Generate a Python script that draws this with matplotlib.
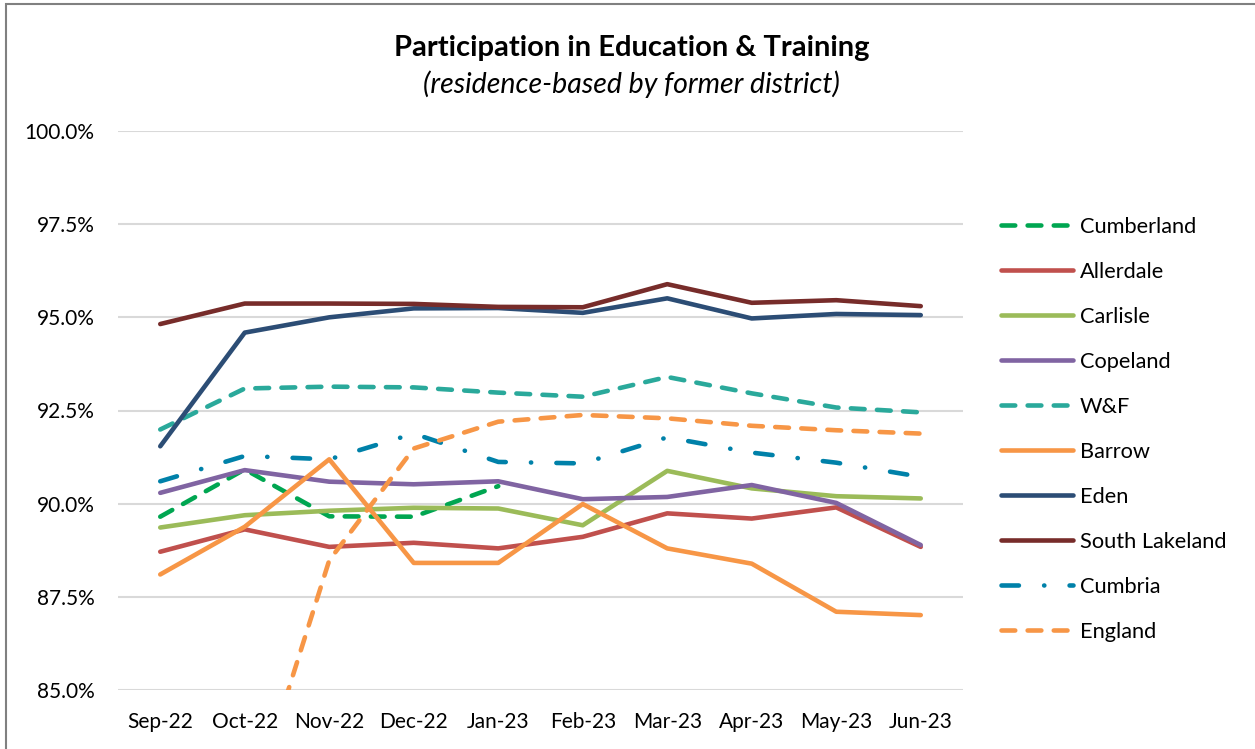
import numpy as np
import matplotlib
matplotlib.use("Agg")
import matplotlib.pyplot as plt
from matplotlib.patches import Rectangle
from matplotlib.ticker import FuncFormatter

plt.rcParams["font.family"] = ["Lato", "DejaVu Sans"]

months = ["Sep-22", "Oct-22", "Nov-22", "Dec-22", "Jan-23",
          "Feb-23", "Mar-23", "Apr-23", "May-23", "Jun-23"]
nan = np.nan

cumberland = [89.65, 90.92, 89.66, 89.65, 90.47, nan, nan, nan, nan, nan]
allerdale = [88.71, 89.31, 88.84, 88.95, 88.80, 89.11, 89.74, 89.60, 89.90, 88.84]
carlisle = [89.36, 89.69, 89.81, 89.89, 89.87, 89.42, 90.88, 90.41, 90.20, 90.14]
copeland = [90.29, 90.90, 90.59, 90.52, 90.60, 90.12, 90.18, 90.50, 90.02, 88.89]
wf = [91.99, 93.09, 93.14, 93.12, 92.98, 92.87, 93.40, 92.96, 92.58, 92.45]
barrow = [88.10, 89.38, 91.19, 88.41, 88.41, 89.99, 88.80, 88.39, 87.10, 87.01]
eden = [91.54, 94.59, 95.00, 95.24, 95.25, 95.12, 95.51, 94.97, 95.09, 95.06]
south_lakeland = [94.82, 95.37, 95.37, 95.36, 95.28, 95.27, 95.89, 95.39, 95.46, 95.30]
cumbria = [90.60, 91.28, 91.19, 91.88, 91.12, 91.08, 91.78, 91.37, 91.10, 90.72]
england = [nan, 81.3, 88.48, 91.48, 92.20, 92.38, 92.29, 92.09, 91.97, 91.88]

dash = (3.0, 2.7)
dashdot = (3.8, 5.5, 0.05, 5.5)
series = [
    ("Cumberland", cumberland, "#00a651", dash),
    ("Allerdale", allerdale, "#c0504d", None),
    ("Carlisle", carlisle, "#9bbb59", None),
    ("Copeland", copeland, "#8064a2", None),
    ("W&F", wf, "#2aa99b", dash),
    ("Barrow", barrow, "#f79646", None),
    ("Eden", eden, "#2c4d75", None),
    ("South Lakeland", south_lakeland, "#772c2a", None),
    ("Cumbria", cumbria, "#0081a9", dashdot),
    ("England", england, "#f79646", dash),
]

fig = plt.figure(figsize=(12.55, 7.49), dpi=100)
ax = fig.add_axes([118 / 1255, 1 - 690 / 749, 845 / 1255, 559 / 749])

x = np.arange(len(months))
for name, vals, col, ls in series:
    line, = ax.plot(x, vals, color=col, lw=3.3, label=name,
                    solid_capstyle="round", dash_capstyle="round",
                    solid_joinstyle="round")
    if ls is not None:
        line.set_dashes(ls)

ax.set_xlim(-0.5, len(months) - 0.5)
ax.set_ylim(85, 100)
ax.set_yticks([85, 87.5, 90, 92.5, 95, 97.5, 100])
ax.yaxis.set_major_formatter(FuncFormatter(lambda v, p: f"{v:.1f}%"))
ax.set_xticks(x)
ax.set_xticklabels(months)
ax.grid(axis="y", color="#d9d9d9", lw=1.5)
ax.set_axisbelow(True)
for s in ax.spines.values():
    s.set_visible(False)
ax.tick_params(length=0, labelsize=15, colors="#000000")
ax.tick_params(axis="y", pad=17)
ax.tick_params(axis="x", pad=16)

leg = ax.legend(loc="upper left", bbox_to_anchor=(1.035, 0.862), frameon=False,
                fontsize=15.7, handlelength=3.3, handletextpad=0.3,
                labelspacing=1.146, borderaxespad=0)

fig.text(0.503, 1 - 48 / 749, "Participation in Education & Training",
         ha="center", va="center", fontsize=21, fontweight="bold")
fig.text(0.503, 1 - 84 / 749, "(residence-based by former district)",
         ha="center", va="center", fontsize=20.5, fontstyle="italic")

fig.patches.append(Rectangle((6 / 1255, -0.1), 1.2, 1 - 4 / 749 + 0.1,
                             transform=fig.transFigure, fill=False,
                             edgecolor="#808080", lw=1.5))

fig.savefig("out.png", dpi=100)
